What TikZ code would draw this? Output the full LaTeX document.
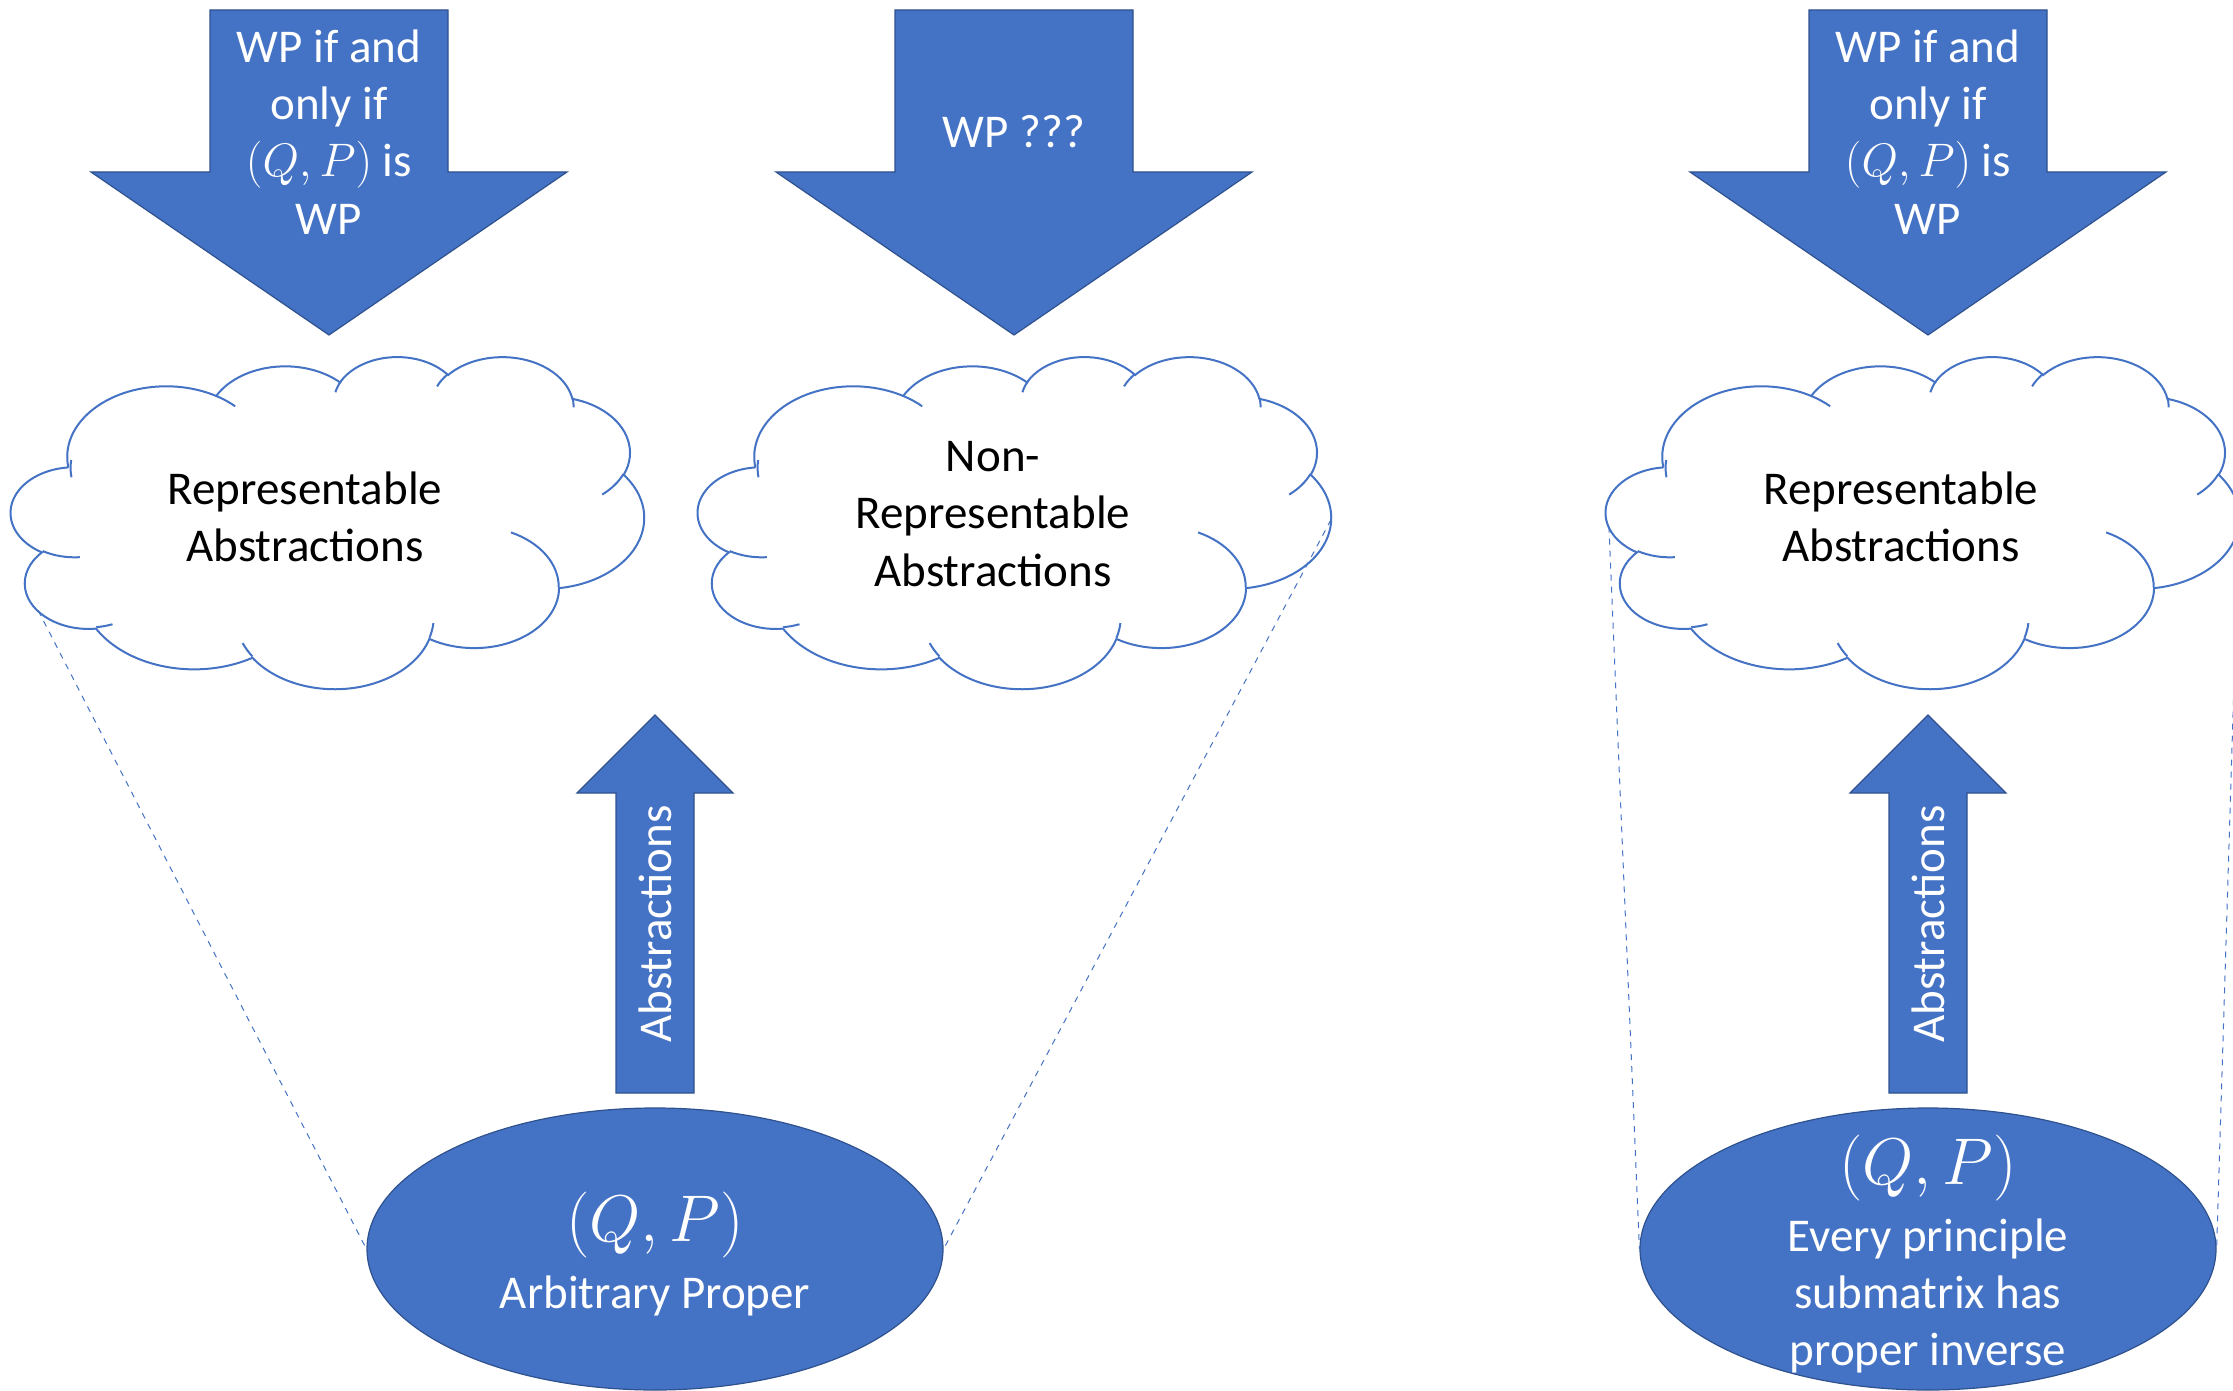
\RequirePackage{fix-cm}
\documentclass[tikz,border=0pt]{standalone}
\usepackage{fontspec}
\setmainfont{Carlito}
\usepackage{tikz}
\definecolor{officeblue}{HTML}{4472C4}
\definecolor{officeedge}{HTML}{2F528F}
\usetikzlibrary{shapes.geometric}

\begin{document}
\begin{tikzpicture}[x=0.5pt,y=-0.5pt,
    bigarrow/.style={fill=officeblue,draw=officeedge,line width=0.6pt},
    whitetext/.style={text=white,align=center,font=\fontsize{23.5}{28.6}\selectfont},
    blacktext/.style={text=black,align=center,font=\fontsize{23.5}{28.6}\selectfont},
    mathtext/.style={text=white,font=\fontsize{33}{36}\selectfont},
    cloudline/.style={draw=officeblue,line width=1pt},
    puff/.style={x radius=#1},
    basebox/.style={ellipse,fill=officeblue,draw=officeedge,line width=0.6pt,
        minimum width=288pt,minimum height=141pt,inner sep=0pt},
    link/.style={draw=officeblue,dashed,line width=0.5pt}
]
\useasboundingbox (0,0) rectangle (2233,1391);

\foreach \cx in {329,1014,1928}
    \draw[bigarrow] (\cx-119,10) -- (\cx+119,10) -- (\cx+119,172) -- (\cx+238,172)
        -- (\cx,335) -- (\cx-238,172) -- (\cx-119,172) -- cycle;
\node[whitetext] (wp1) at (329,132) {WP if and\\only if\\$(Q,P)$ is\\WP};
\node[whitetext] (wp2) at (1014,132) {WP ???};
\node[whitetext] (wp3) at (1928,132) {WP if and\\only if\\$(Q,P)$ is\\WP};

% clouds, drawn in a 432 x 432 box
\foreach \nm/\cx/\cy in {c1/11/356,c2/698/356,c3/1606/356} {
    \begin{scope}[shift={(\cx,\cy)},x=0.7326pt,y=-0.3843pt]
        \draw[cloudline,fill=white] (39,143.7)
            \foreach \w/\h/\s/\d in {67.53/91.90/-190.4875/123.7805,
                53.33/72.67/-144.1024/89.9452, 43.65/59.45/-145.8079/99.7230,
                48.57/65.95/-130.9861/117.2417, 53.33/72.73/-78.7089/109.0269,
                67.75/92.20/-46.2673/130.2690, 57.85/78.67/0.6250/114.0333,
                67.52/92.15/22.4516/115.1726, 77.20/105.43/66.2426/75.7110,
                43.60/59.18/-274.9421/146.7356, 43.45/59.45/-246.8285/152.5189}
            { arc[x radius=\w,y radius=\h,start angle={atan2(\w*sin(\s),\h*cos(\s))},
                delta angle={mod(atan2(\w*sin(\s+\d),\h*cos(\s+\d))-atan2(\w*sin(\s),\h*cos(\s))+720,360)}] }
            -- cycle;
        \foreach \px/\py/\w/\h/\s/\d in {46.93/261.77/43.45/59.45/86.7420/26.4295,
                69.28/348.99/43.60/59.18/73.6105/11.4475,
                164.78/390.90/67.52/92.15/137.6242/14.0811,
                288.27/347.51/67.52/92.15/6.4533/15.9984,
                341.29/229.54/57.85/78.67/-70.2924/70.9174,
                417.98/153.54/53.33/72.73/30.3180/27.7515,
                383.24/54.26/48.57/65.95/-13.7443/14.8589,
                290.78/39.52/48.57/65.95/-149.1815/18.1954,
                221.41/47.20/43.65/59.45/-163.4943/17.6864,
                140.00/51.92/67.53/91.90/-66.7070/12.3194,
                41.27/157.89/67.53/91.90/-190.4875/19.0947}
            \draw[cloudline] (\px,\py) arc[x radius=\w,y radius=\h,
                start angle={atan2(\w*sin(\s),\h*cos(\s))},
                delta angle={mod(atan2(\w*sin(\s+\d),\h*cos(\s+\d))-atan2(\w*sin(\s),\h*cos(\s))+720,360)}];
        \coordinate (\nm-sw) at (18.5,331);
        \coordinate (\nm-w) at (2,222);
        \coordinate (\nm-e) at (432,213);
    \end{scope}
}
\node[blacktext] (rep1) at (305,517) {Representable\\Abstractions};
\node[blacktext] (nonrep) at (993,514) {Non-\\Representable\\Abstractions};
\node[blacktext] (rep2) at (1901,517) {Representable\\Abstractions};

\node[basebox] (e1) at (655,1249) {};
\node[basebox] (e2) at (1928,1249) {};

\draw[link] (c1-sw) -- (e1.west);
\draw[link] (c2-e) -- (e1.east);
\draw[link] (c3-w) -- (e2.west);
\draw[link] (c3-e) -- (e2.east);

\foreach \cx in {655,1928}
    \draw[bigarrow] (\cx-39,1093) -- (\cx-39,793) -- (\cx-78,793) -- (\cx,715)
        -- (\cx+78,793) -- (\cx+39,793) -- (\cx+39,1093) -- cycle;
\node[whitetext,rotate=90] (abs1) at (655,924) {Abstractions};
\node[whitetext,rotate=90] (abs2) at (1928,924) {Abstractions};

\node[mathtext] (qp1) at (655,1225) {$(Q,P)$};
\node[whitetext] (arb) at (655,1296) {Arbitrary Proper};
\node[mathtext] (qp2) at (1928,1168) {$(Q,P)$};
\node[whitetext] (every) at (1928,1296) {Every principle\\submatrix has\\proper inverse};
\end{tikzpicture}
\end{document}
